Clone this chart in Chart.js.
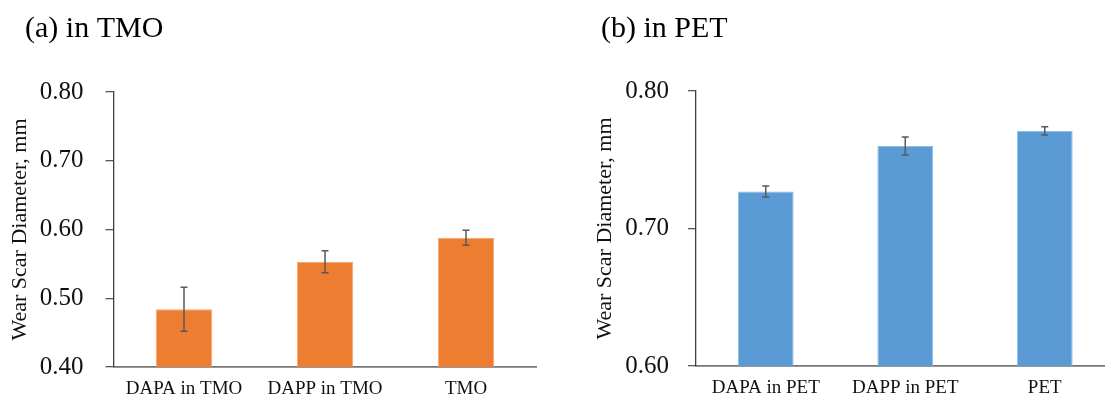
<!DOCTYPE html>
<html>
<head>
<meta charset="utf-8">
<title>Wear Scar Diameter</title>
<script src="https://cdn.jsdelivr.net/npm/chart.js"></script>
<style>
  html, body {
    margin: 0;
    padding: 0;
    background: #fff;
    overflow: hidden;
    width: 1105px;
    height: 397px;
  }
  .panel {
    position: absolute;
    top: 0;
    height: 397px;
  }
  #panelA { left: 0; width: 540px; }
  #panelB { left: 575px; width: 545px; }
</style>
</head>
<body>
<div class="panel" id="panelA"><canvas id="chartTMO"></canvas></div>
<div class="panel" id="panelB"><canvas id="chartPET"></canvas></div>
<script>
// Data
const tmoLabels = ['DAPA in TMO', 'DAPP in TMO', 'TMO'];
const tmoValues = [0.484, 0.553, 0.588];
const tmoErrors = [0.032, 0.016, 0.011];

const petLabels = ['DAPA in PET', 'DAPP in PET', 'PET'];
const petValues = [0.727, 0.760, 0.771];
const petErrors = [0.004, 0.0065, 0.003];

const tmoTicks = [0.4, 0.5, 0.6, 0.7, 0.8];
const petTicks = [0.6, 0.7, 0.8];

const serif = "'Liberation Serif', 'Times New Roman', serif";

// Draws symmetric error bars from the errors array stored on each dataset
const errorBars = {
  id: 'errorBars',
  afterDatasetsDraw(chart) {
    const ctx = chart.ctx;
    const yScale = chart.scales.y;
    chart.data.datasets.forEach((ds, i) => {
      const meta = chart.getDatasetMeta(i);
      meta.data.forEach((bar, j) => {
        const v = ds.data[j];
        const e = ds.errors[j];
        const top = yScale.getPixelForValue(v + e);
        const bottom = yScale.getPixelForValue(v - e);
        ctx.save();
        ctx.strokeStyle = '#595959';
        ctx.lineWidth = 1.5;
        ctx.beginPath();
        ctx.moveTo(bar.x, top);
        ctx.lineTo(bar.x, bottom);
        ctx.moveTo(bar.x - 3.5, top);
        ctx.lineTo(bar.x + 3.5, top);
        ctx.moveTo(bar.x - 3.5, bottom);
        ctx.lineTo(bar.x + 3.5, bottom);
        ctx.stroke();
        ctx.restore();
      });
    });
  }
};

// Panel caption like "(a) in TMO"
const panelCaption = {
  id: 'panelCaption',
  afterDraw(chart, args, opts) {
    const ctx = chart.ctx;
    ctx.save();
    ctx.font = '30px ' + serif;
    ctx.fillStyle = '#000';
    ctx.textBaseline = 'alphabetic';
    ctx.textAlign = 'left';
    ctx.fillText(opts.text, opts.x, opts.y);
    ctx.restore();
  }
};

function makeChart(id, cfg) {
  const ctx = document.getElementById(id).getContext('2d');
  return new Chart(ctx, {
    type: 'bar',
    data: {
      labels: cfg.labels,
      datasets: [{
        data: cfg.values,
        errors: cfg.errors,
        backgroundColor: cfg.color,
        borderColor: cfg.edge,
        borderWidth: 1,
        categoryPercentage: 0.4,
        barPercentage: 1.0
      }]
    },
    options: {
      responsive: true,
      maintainAspectRatio: false,
      animation: false,
      layout: {
        padding: { top: cfg.top, right: cfg.right, bottom: 0, left: 0 }
      },
      plugins: {
        legend: { display: false },
        tooltip: { enabled: false },
        panelCaption: { text: cfg.caption, x: cfg.captionX, y: 37 }
      },
      scales: {
        x: {
          grid: { display: true, drawOnChartArea: false, drawTicks: false },
          border: { display: true, color: '#767676', width: 1.8 },
          ticks: {
            color: '#111',
            padding: 11,
            font: { family: serif, size: 19 }
          },
          afterFit(scale) { scale.height = cfg.xHeight; }
        },
        y: {
          min: cfg.min,
          max: 0.8,
          afterBuildTicks(scale) {
            scale.ticks = cfg.ticks.map(v => ({ value: v }));
          },
          grid: {
            display: true,
            drawOnChartArea: false,
            drawTicks: true,
            tickLength: 8,
            color: '#595959',
            lineWidth: 1.3
          },
          border: { display: true, color: '#404040', width: 1.3 },
          ticks: {
            color: '#111',
            padding: cfg.tickPad,
            // small lineHeight keeps the end-label padding from shrinking the plot
            font: { family: serif, size: 25, lineHeight: 0.2 },
            callback: v => Number(v).toFixed(2)
          },
          title: {
            display: true,
            text: 'Wear Scar Diameter, mm',
            color: '#111',
            font: { family: serif, size: 22 },
            padding: { top: cfg.titlePad, bottom: 0 }
          },
          afterFit(scale) { scale.width = cfg.yWidth; }
        }
      }
    },
    plugins: [errorBars, panelCaption]
  });
}

makeChart('chartTMO', {
  labels: tmoLabels, values: tmoValues, errors: tmoErrors, ticks: tmoTicks,
  min: 0.4, color: '#ED7D31', edge: '#F6A56F',
  caption: '(a) in TMO', captionX: 25,
  top: 92, right: 3.5, xHeight: 30, yWidth: 113.5, tickPad: 22, titlePad: 7
});

makeChart('chartPET', {
  labels: petLabels, values: petValues, errors: petErrors, ticks: petTicks,
  min: 0.6, color: '#5B9BD5', edge: '#8FBCE6',
  caption: '(b) in PET', captionX: 26,
  top: 91, right: 5.5, xHeight: 31, yWidth: 121, tickPad: 19, titlePad: 17
});
</script>
</body>
</html>
